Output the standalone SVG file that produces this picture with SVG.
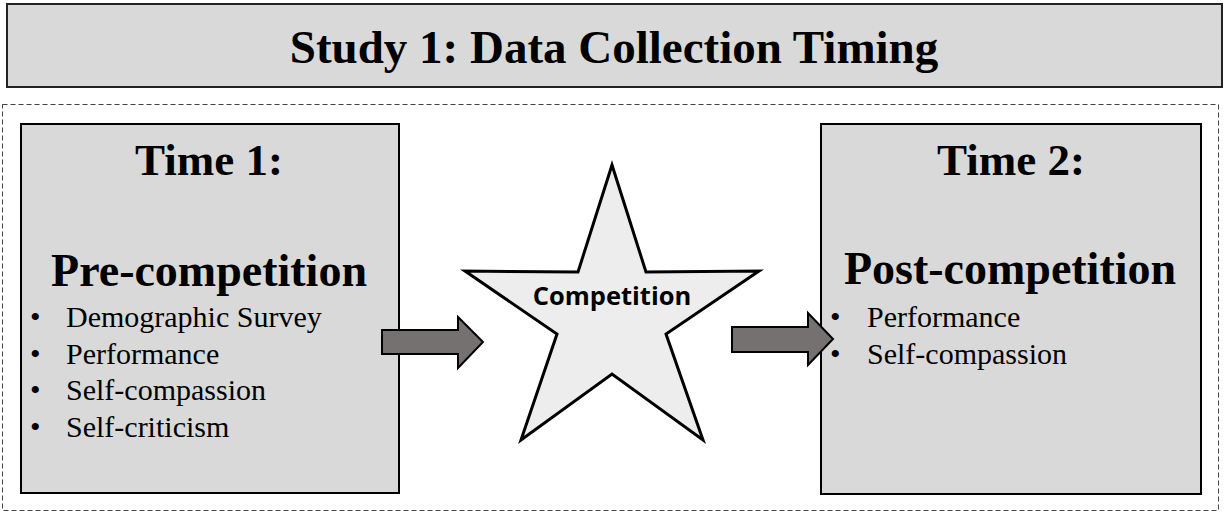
<svg xmlns="http://www.w3.org/2000/svg" width="1225" height="512" viewBox="0 0 1225 512">
<style>
.box{fill:#d9d9d9;stroke:#000;stroke-width:2}
.hd{font-family:'Liberation Serif',Tinos,'Times New Roman',Times,serif;font-weight:bold;text-anchor:middle;fill:#000}
.li{font-family:'Liberation Serif',Tinos,'Times New Roman',Times,serif;font-size:30px;fill:#000}
.arrow{fill:#767171;stroke:#000;stroke-width:2;stroke-linejoin:miter}
</style>
<rect width="1225" height="512" fill="#fff"/>
<g id="title">
<rect x="7" y="4" width="1215" height="83" fill="#d9d9d9" stroke="#222" stroke-width="2"/>
<text class="hd" x="614" y="63" font-size="47">Study 1: Data Collection Timing</text>
</g>
<g id="frame">
<rect x="2.5" y="104.5" width="1216" height="406" fill="none" stroke="#444" stroke-width="1" stroke-dasharray="5,3"/>
</g>
<g id="time1">
<rect class="box" x="21" y="124" width="378" height="369"/>
<text class="hd" x="209" y="175" font-size="45">Time 1:</text>
<text class="hd" x="209" y="286" font-size="46">Pre-competition</text>
<text class="li" x="30" y="327">•</text><text class="li" x="66" y="327">Demographic Survey</text>
<text class="li" x="30" y="364">•</text><text class="li" x="66" y="364">Performance</text>
<text class="li" x="30" y="400">•</text><text class="li" x="66" y="400">Self-compassion</text>
<text class="li" x="30" y="437">•</text><text class="li" x="66" y="437">Self-criticism</text>
</g>
<g id="time2">
<rect class="box" x="821" y="124" width="380" height="370"/>
<text class="hd" x="1011" y="175" font-size="45">Time 2:</text>
<text class="hd" x="1010" y="284" font-size="46">Post-competition</text>
<text class="li" x="830" y="327">•</text><text class="li" x="867" y="327">Performance</text>
<text class="li" x="830" y="364">•</text><text class="li" x="867" y="364">Self-compassion</text>
</g>
<g id="competition">
<polygon points="612,165 646,272 759,271 666,334 703,440 612,374 521,440 557,334 465,271 578,272" fill="#ededed" stroke="#000" stroke-width="3" stroke-linejoin="miter"/>
<text x="612" y="305" font-family="'Open Sans','Liberation Sans',sans-serif" font-weight="bold" font-size="25.5" text-anchor="middle" fill="#000">Competition</text>
</g>
<g id="connectors">
<polygon class="arrow" points="382,330 458,330 458,317 483,342 458,368 458,354 382,354"/>
<polygon class="arrow" points="732,327 808,327 808,313 833,339 808,365 808,352 732,352"/>
</g>
</svg>
